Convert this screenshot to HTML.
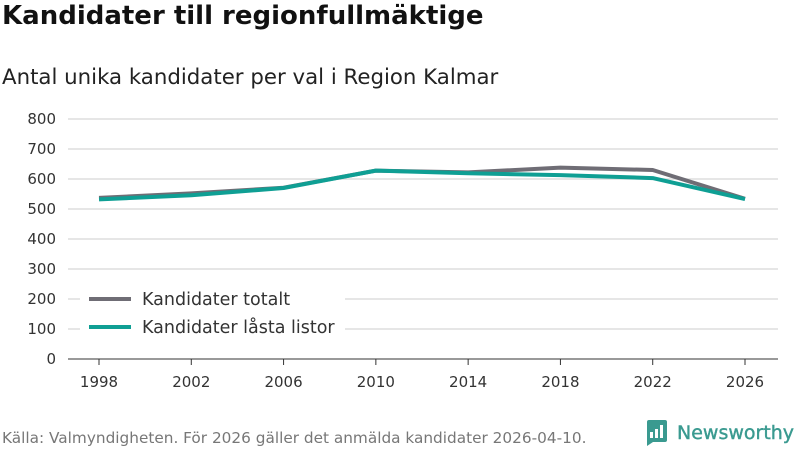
<!DOCTYPE html>
<html><head><meta charset="utf-8"><style>
body{margin:0;width:800px;height:450px;background:#fff;font-family:"DejaVu Sans","Liberation Sans",sans-serif;overflow:hidden;position:relative}
#title{position:absolute;left:2px;top:1px;font-size:26px;font-weight:bold;color:#111}
#subtitle{position:absolute;left:2px;top:65px;font-size:21.3px;color:#222}
#source{position:absolute;left:2px;top:429px;font-size:15.3px;color:#777}
#logo{position:absolute;left:645px;top:420px;display:flex;align-items:center;gap:10px;color:#3a9a90;font-size:19px;font-weight:normal;-webkit-text-stroke:0.4px #3a9a90}
svg text{font-family:"DejaVu Sans","Liberation Sans",sans-serif;fill:#333;font-size:15px}
</style></head><body>
<div id="title">Kandidater till regionfullmäktige</div>
<div id="subtitle">Antal unika kandidater per val i Region Kalmar</div>
<svg id="chart" width="800" height="450" style="position:absolute;left:0;top:0"></svg>
<div id="source">Källa: Valmyndigheten. För 2026 gäller det anmälda kandidater 2026-04-10.</div>
<div id="logo"><svg width="22" height="26" viewBox="0 0 22 26"><path d="M2 0h18a2 2 0 0 1 2 2v18a2 2 0 0 1-2 2H8l-6 4V2a2 2 0 0 1 2-2z" fill="#3a9a90"/><rect x="5" y="12" width="3" height="6" fill="#fff"/><rect x="10" y="9" width="3" height="9" fill="#fff"/><rect x="15" y="5" width="3" height="13" fill="#fff"/></svg>Newsworthy</div>
<script>
const years=[1998,2002,2006,2010,2014,2018,2022,2026];
const totalt=[537,552,571,628,622,638,630,534];
const lasta=[532,546,570,628,619,613,603,533];
const yTicks=[0,100,200,300,400,500,600,700,800];
const NS="http://www.w3.org/2000/svg";
const svg=document.getElementById('chart');
const x=y=>99+(y-1998)/(2026-1998)*(745-99);
const yv=v=>359-v*0.3;
function el(t,a){const e=document.createElementNS(NS,t);for(const k in a)e.setAttribute(k,a[k]);svg.appendChild(e);return e;}
yTicks.forEach(t=>{
 const g=el('line',{x1:68,x2:778,y1:yv(t),y2:yv(t),stroke:t===0?'#333':'#ddd','stroke-width':t===0?1:1.5});
 
 
 const l=el('text',{x:56,y:yv(t)+5,'text-anchor':'end'});l.textContent=t;
 
 
});
years.forEach(yr=>{
 const tk=el('line',{x1:x(yr),x2:x(yr),y1:359,y2:365,stroke:'#333'});
 
 
 const l=el('text',{x:x(yr),y:387,'text-anchor':'middle'});l.textContent=yr;
 
 
});
function line(vals,color,name){
 const p=el('polyline',{points:vals.map((v,i)=>x(years[i])+','+yv(v)).join(' '),fill:'none',stroke:color,'stroke-width':4,'stroke-linejoin':'round'});
 
 
}
line(totalt,'#6f6d75','series-kandidater-totalt');
line(lasta,'#0f9f94','series-kandidater-lasta-listor');
const bg=el('rect',{x:80,y:285,width:265,height:60,fill:'#fff'});


[['Kandidater totalt','#6f6d75',299],['Kandidater låsta listor','#0f9f94',327]].forEach(([t,c,yy])=>{
 const s=el('line',{x1:89,x2:131,y1:yy,y2:yy,stroke:c,'stroke-width':4});
 
 
 const l=el('text',{x:142,y:yy+6});l.textContent=t;l.style.fontSize='17.5px';
 
 
});
</script>
</body></html>
